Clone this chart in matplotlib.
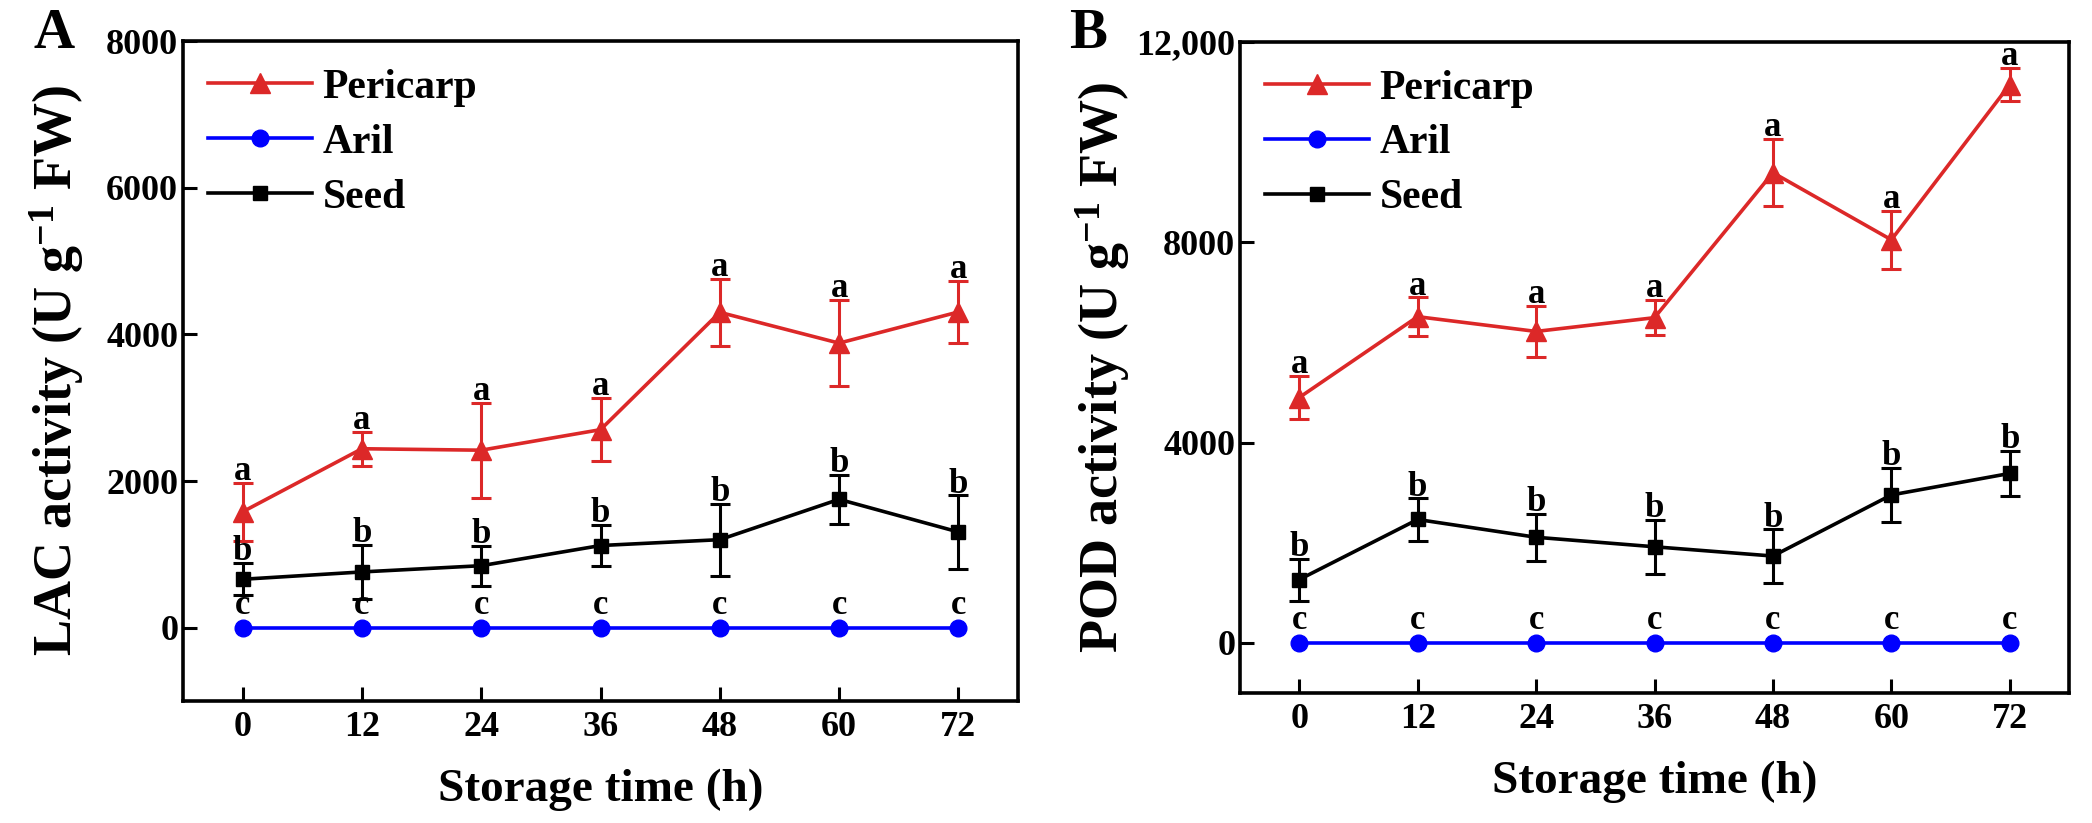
import numpy as np
import matplotlib
matplotlib.use("Agg")
import matplotlib.pyplot as plt
from matplotlib.ticker import FuncFormatter

plt.rcParams['font.family'] = ['Liberation Serif', 'DejaVu Serif']
plt.rcParams['font.weight'] = 'bold'
plt.rcParams['axes.labelweight'] = 'bold'
plt.rcParams['mathtext.fontset'] = 'custom'
plt.rcParams['mathtext.rm'] = 'Liberation Serif:bold'
plt.rcParams['mathtext.it'] = 'Liberation Serif:bold'
plt.rcParams['mathtext.bf'] = 'Liberation Serif:bold'

# datos
hours = [0, 12, 24, 36, 48, 60, 72]

# A - LAC
lac_pericarp = [1580, 2440, 2420, 2700, 4300, 3880, 4305]
lac_pericarp_err = [395, 230, 650, 430, 460, 590, 425]
lac_aril = [0, 0, 0, 0, 0, 0, 0]
lac_aril_err = [0, 0, 0, 0, 0, 0, 0]
lac_seed = [660, 760, 845, 1120, 1200, 1750, 1305]
lac_seed_err = [220, 370, 270, 280, 490, 330, 500]

# B - POD
pod_pericarp = [4900, 6515, 6220, 6495, 9390, 8050, 11150]
pod_pericarp_err = [430, 385, 515, 355, 670, 580, 330]
pod_aril = [0, 0, 0, 0, 0, 0, 0]
pod_aril_err = [0, 0, 0, 0, 0, 0, 0]
pod_seed = [1265, 2465, 2110, 1920, 1735, 2955, 3385]
pod_seed_err = [420, 420, 465, 540, 530, 540, 450]

sig_pericarp = ['a'] * 7
sig_aril = ['c'] * 7
sig_seed = ['b'] * 7

red = '#dc2828'
blue = '#0000ff'
black = '#000000'

W, H = 2092, 823
fig = plt.figure(figsize=(W / 100, H / 100), dpi=100)

ax_a = fig.add_axes([183 / W, 1 - 701 / H, (1018 - 183) / W, (701 - 41) / H])
ax_b = fig.add_axes([1240 / W, 1 - 693 / H, (2069 - 1240) / W, (693 - 42) / H])


def panel(ax, series, ylim, yticks, ylabel, ylab_x):
    for name, y, err, sig, color, marker, ms, pad in series:
        if any(e > 0 for e in err):
            ax.errorbar(hours, y, yerr=err, fmt='none', ecolor=color,
                        elinewidth=2.2, capsize=7, capthick=2.2, zorder=2)
        ax.plot(hours, y, color=color, lw=2.6, marker=marker, ms=ms,
                label=name, zorder=3)
        for xi, yi, ei, s in zip(hours, y, err, sig):
            ax.annotate(s, (xi, yi + ei), xytext=(0, pad), textcoords='offset points',
                        ha='center', va='baseline', fontsize=25, fontweight='bold')

    ax.set_xlim(-6, 78)
    ax.set_ylim(*ylim)
    ax.set_xticks(hours)
    ax.set_yticks(yticks)
    ax.yaxis.set_major_formatter(FuncFormatter(
        lambda v, p: f"{int(v):,}" if v >= 10000 else f"{int(v)}"))
    ax.tick_params(direction='in', length=10, width=2.2, labelsize=26)
    ax.tick_params(axis='x', pad=7)
    ax.tick_params(axis='y', pad=3.5)
    for sp in ax.spines.values():
        sp.set_linewidth(2.6)
    ax.set_xlabel("Storage time (h)", fontsize=34, labelpad=18)
    ax.set_ylabel(ylabel, fontsize=39)
    ax.yaxis.set_label_coords(ylab_x, 0.5)
    ax.legend(loc='upper left', bbox_to_anchor=(0.03, 0.958), frameon=False,
              fontsize=30, handlelength=2.5, handletextpad=0.25,
              labelspacing=0.4, borderpad=0, borderaxespad=0)


panel(ax_a,
      [("Pericarp", lac_pericarp, lac_pericarp_err, sig_pericarp, red, '^', 14, 2),
       ("Aril", lac_aril, lac_aril_err, sig_aril, blue, 'o', 12, 10),
       ("Seed", lac_seed, lac_seed_err, sig_seed, black, 's', 10.5, 2)],
      (-1000, 8000), [0, 2000, 4000, 6000, 8000],
      "LAC activity (U g$^{-1}$ FW)", -0.116)

panel(ax_b,
      [("Pericarp", pod_pericarp, pod_pericarp_err, sig_pericarp, red, '^', 14, 2),
       ("Aril", pod_aril, pod_aril_err, sig_aril, blue, 'o', 12, 10),
       ("Seed", pod_seed, pod_seed_err, sig_seed, black, 's', 10.5, 2)],
      (-1000, 12000), [0, 4000, 8000, 12000],
      "POD activity (U g$^{-1}$ FW)", -0.130)

fig.text(33 / W, 1 - 8 / H, "A", fontsize=41, fontweight='bold', ha='left', va='top')
fig.text(1069 / W, 1 - 8 / H, "B", fontsize=41, fontweight='bold', ha='left', va='top')

plt.savefig("out.png", dpi=100)
